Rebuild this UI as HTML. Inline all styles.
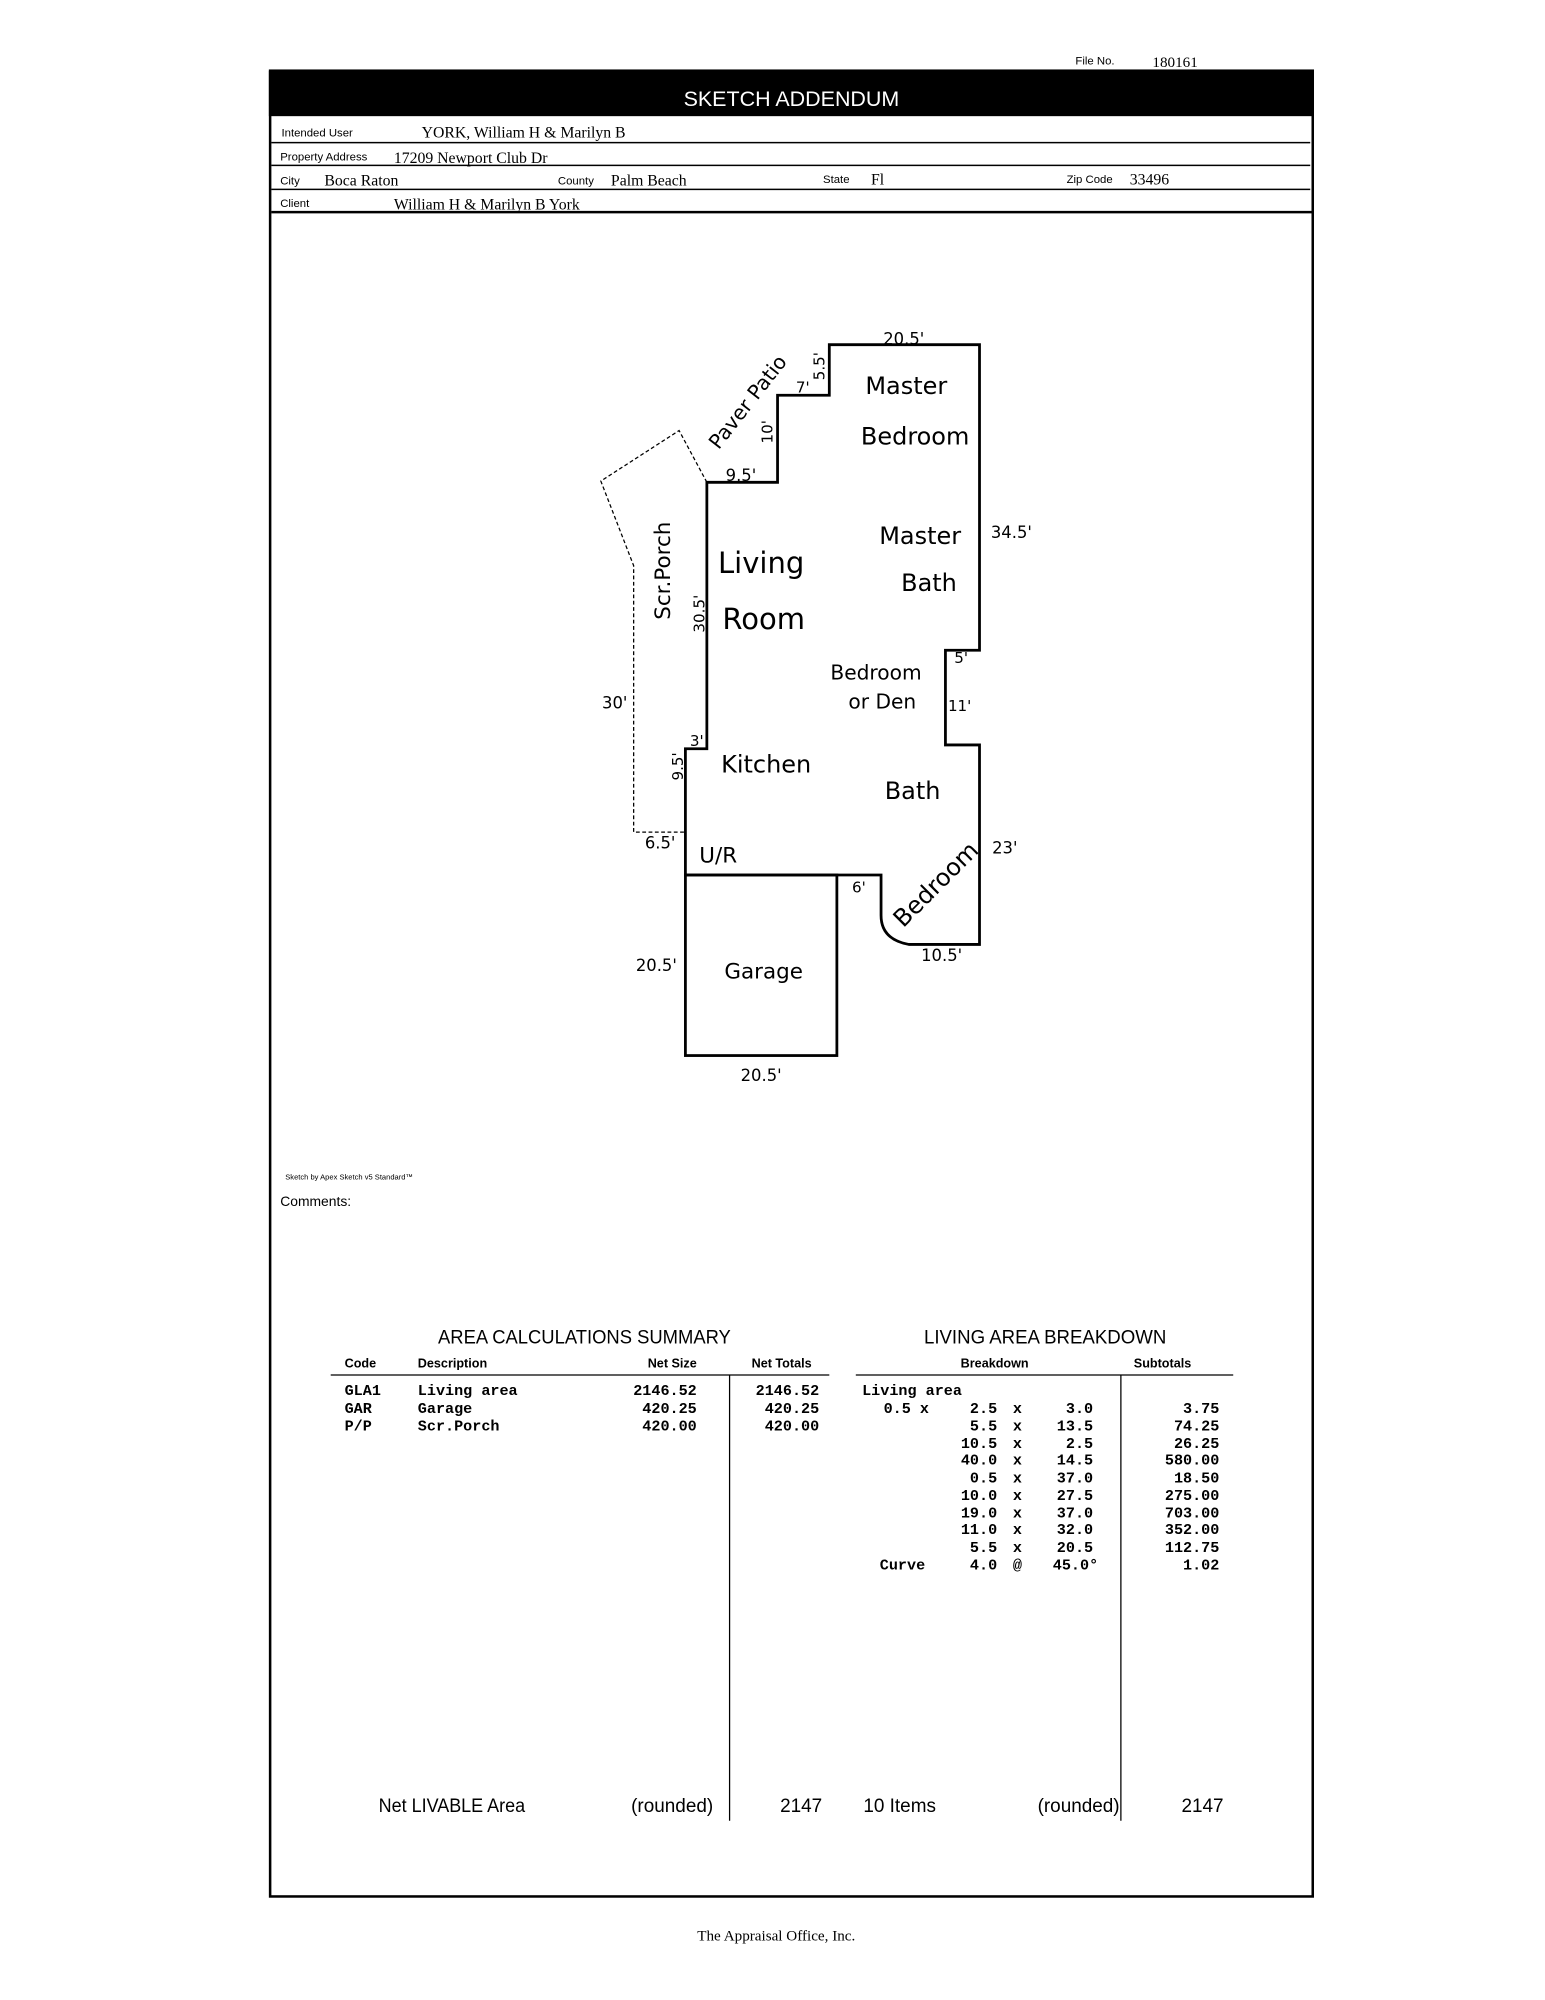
<!DOCTYPE html>
<html><head><meta charset="utf-8"><style>
html,body{margin:0;padding:0;background:#fff;}
svg{display:block;}
.s{font-family:"Liberation Sans",sans-serif;}
.r{font-family:"Liberation Serif",serif;}
.m{font-family:"Liberation Mono",monospace;font-weight:bold;}
.d{font-family:"DejaVu Sans",sans-serif;}
</style></head><body>
<svg width="1545" height="2000" viewBox="0 0 1224 1584" preserveAspectRatio="none" xmlns="http://www.w3.org/2000/svg">
<rect width="1224" height="1584" fill="#fff"/>
<text x="852" y="51" class="s" font-size="9">File No.</text>
<text x="913" y="53" class="r" font-size="12">180161</text>
<line x1="908" y1="56" x2="958" y2="56" stroke="#000" stroke-width="0.6"/>
<rect x="214" y="56" width="826" height="1446" fill="none" stroke="#000" stroke-width="2"/>
<rect x="213" y="56" width="827" height="36" fill="#000"/>
<text x="627" y="84" text-anchor="middle" class="s" font-size="17" fill="#fff">SKETCH ADDENDUM</text>
<g stroke="#000">
<line x1="215" y1="113" x2="1038" y2="113" stroke-width="1.2"/>
<line x1="215" y1="131" x2="1038" y2="131" stroke-width="1.2"/>
<line x1="215" y1="150" x2="1038" y2="150" stroke-width="1.2"/>
<line x1="215" y1="168" x2="1040" y2="168" stroke-width="2"/>
</g>
<g class="s" font-size="9">
<text x="223" y="108">Intended User</text>
<text x="222" y="127">Property Address</text>
<text x="222" y="146">City</text>
<text x="442" y="146">County</text>
<text x="652" y="145">State</text>
<text x="845" y="145">Zip Code</text>
<text x="222" y="164">Client</text>
</g>
<g class="r" font-size="12.5">
<text x="334" y="109">YORK, William H &amp; Marilyn B</text>
<text x="312" y="129">17209 Newport Club Dr</text>
<text x="257" y="147">Boca Raton</text>
<text x="484" y="147">Palm Beach</text>
<text x="690" y="146">Fl</text>
<text x="895" y="146">33496</text>
<text x="312" y="166">William H &amp; Marilyn B York</text>
</g>
<g fill="none" stroke="#000" stroke-width="2.2">
<path d="M657,273 L776,273 L776,515 L749,515 L749,590 L776,590 L776,748 L720,748 Q698,744 698,725 L698,693 L543,693 L543,593 L560,593 L560,382 L616,382 L616,313 L657,313 Z"/>
<rect x="543" y="693" width="120" height="143"/>
</g>
<path d="M560,382 L538,341 L476,381 L502,448 L502,659 L543,659" fill="none" stroke="#000" stroke-width="1" stroke-dasharray="3,2"/>
<g class="d" fill="#000">
<text x="716" y="273" font-size="13" text-anchor="middle">20.5'</text>
<text x="718" y="312" font-size="19" text-anchor="middle">Master</text>
<text x="725" y="352" font-size="19" text-anchor="middle">Bedroom</text>
<text x="729" y="431" font-size="19" text-anchor="middle">Master</text>
<text x="736" y="468" font-size="19" text-anchor="middle">Bath</text>
<text x="785" y="426" font-size="13">34.5'</text>
<text x="603" y="454" font-size="23" text-anchor="middle">Living</text>
<text x="605" y="498" font-size="23" text-anchor="middle">Room</text>
<text x="694" y="538" font-size="16" text-anchor="middle">Bedroom</text>
<text x="699" y="561" font-size="16" text-anchor="middle">or Den</text>
<text x="756" y="525" font-size="12">5'</text>
<text x="751" y="563" font-size="12">11'</text>
<text x="607" y="612" font-size="19" text-anchor="middle">Kitchen</text>
<text x="723" y="633" font-size="19" text-anchor="middle">Bath</text>
<text x="786" y="676" font-size="13">23'</text>
<text x="569" y="683" font-size="17" text-anchor="middle">U/R</text>
<text x="675" y="707" font-size="12">6'</text>
<text x="741" y="707" font-size="19" text-anchor="middle" transform="rotate(-45 741 700)">Bedroom</text>
<text x="746" y="761" font-size="13" text-anchor="middle">10.5'</text>
<text x="605" y="775" font-size="17" text-anchor="middle">Garage</text>
<text x="520" y="769" font-size="13" text-anchor="middle">20.5'</text>
<text x="603" y="856" font-size="13" text-anchor="middle">20.5'</text>
<text x="523" y="672" font-size="13" text-anchor="middle">6.5'</text>
<text x="487" y="561" font-size="13" text-anchor="middle">30'</text>
<text x="552" y="591" font-size="12" text-anchor="middle">3'</text>
<text x="545" y="611" font-size="12" text-anchor="middle" transform="rotate(-90 541 611)">9.5'</text>
<text x="562" y="490" font-size="12" text-anchor="middle" transform="rotate(-90 558 490)">30.5'</text>
<text x="537" y="458" font-size="17" text-anchor="middle" transform="rotate(-90 531 458)">Scr.Porch</text>
<text x="587" y="381" font-size="13" text-anchor="middle">9.5'</text>
<text x="616" y="346" font-size="12" text-anchor="middle" transform="rotate(-90 612 346)">10'</text>
<text x="636" y="311" font-size="12" text-anchor="middle">7'</text>
<text x="657" y="294" font-size="12" text-anchor="middle" transform="rotate(-90 653 294)">5.5'</text>
<text x="592" y="324" font-size="16" text-anchor="middle" transform="rotate(-52 592 318)">Paver Patio</text>
</g>
<text x="226" y="934" class="s" font-size="6">Sketch by Apex Sketch v5 Standard™</text>
<text x="222" y="955" class="s" font-size="11">Comments:</text>
<g class="s">
<text x="463" y="1064" font-size="15" text-anchor="middle" textLength="232" lengthAdjust="spacingAndGlyphs">AREA CALCULATIONS SUMMARY</text>
<text x="828" y="1064" font-size="15" text-anchor="middle" textLength="192" lengthAdjust="spacingAndGlyphs">LIVING AREA BREAKDOWN</text>
<g font-size="10" font-weight="bold">
<text x="273" y="1083">Code</text>
<text x="331" y="1083">Description</text>
<text x="552" y="1083" text-anchor="end">Net Size</text>
<text x="643" y="1083" text-anchor="end">Net Totals</text>
<text x="788" y="1083" text-anchor="middle">Breakdown</text>
<text x="921" y="1083" text-anchor="middle">Subtotals</text>
</g>
</g>
<g stroke="#000" stroke-width="1">
<line x1="262" y1="1089" x2="657" y2="1089"/>
<line x1="678" y1="1089" x2="977" y2="1089"/>
<line x1="578" y1="1089" x2="578" y2="1442"/>
<line x1="888" y1="1089" x2="888" y2="1442"/>
</g>
<g class="m" font-size="12">
<text x="273" y="1105">GLA1</text><text x="331" y="1105">Living area</text><text x="552" y="1105" text-anchor="end">2146.52</text><text x="649" y="1105" text-anchor="end">2146.52</text>
<text x="273" y="1119">GAR</text><text x="331" y="1119">Garage</text><text x="552" y="1119" text-anchor="end">420.25</text><text x="649" y="1119" text-anchor="end">420.25</text>
<text x="273" y="1133">P/P</text><text x="331" y="1133">Scr.Porch</text><text x="552" y="1133" text-anchor="end">420.00</text><text x="649" y="1133" text-anchor="end">420.00</text>
<text x="683" y="1105">Living area</text>
<text x="700" y="1119">0.5 x</text>
<text x="697" y="1243">Curve</text>
</g>
<g class="m" font-size="12">
<g text-anchor="end">
<text x="790" y="1119">2.5</text><text x="866" y="1119">3.0</text><text x="966" y="1119">3.75</text>
<text x="790" y="1133">5.5</text><text x="866" y="1133">13.5</text><text x="966" y="1133">74.25</text>
<text x="790" y="1147">10.5</text><text x="866" y="1147">2.5</text><text x="966" y="1147">26.25</text>
<text x="790" y="1160">40.0</text><text x="866" y="1160">14.5</text><text x="966" y="1160">580.00</text>
<text x="790" y="1174">0.5</text><text x="866" y="1174">37.0</text><text x="966" y="1174">18.50</text>
<text x="790" y="1188">10.0</text><text x="866" y="1188">27.5</text><text x="966" y="1188">275.00</text>
<text x="790" y="1202">19.0</text><text x="866" y="1202">37.0</text><text x="966" y="1202">703.00</text>
<text x="790" y="1215">11.0</text><text x="866" y="1215">32.0</text><text x="966" y="1215">352.00</text>
<text x="790" y="1229">5.5</text><text x="866" y="1229">20.5</text><text x="966" y="1229">112.75</text>
<text x="790" y="1243">4.0</text><text x="870" y="1243">45.0°</text><text x="966" y="1243">1.02</text>
</g>
<g text-anchor="middle">
<text x="806" y="1119">x</text><text x="806" y="1133">x</text><text x="806" y="1147">x</text><text x="806" y="1160">x</text><text x="806" y="1174">x</text><text x="806" y="1188">x</text><text x="806" y="1202">x</text><text x="806" y="1215">x</text><text x="806" y="1229">x</text><text x="806" y="1243">@</text>
</g>
</g>
<g class="s" font-size="15">
<text x="300" y="1435" textLength="116" lengthAdjust="spacingAndGlyphs">Net LIVABLE Area</text>
<text x="500" y="1435">(rounded)</text>
<text x="618" y="1435">2147</text>
<text x="684" y="1435">10 Items</text>
<text x="822" y="1435">(rounded)</text>
<text x="936" y="1435">2147</text>
</g>
<text x="615" y="1537" class="r" font-size="12" text-anchor="middle">The Appraisal Office, Inc.</text>
</svg>
</body></html>
